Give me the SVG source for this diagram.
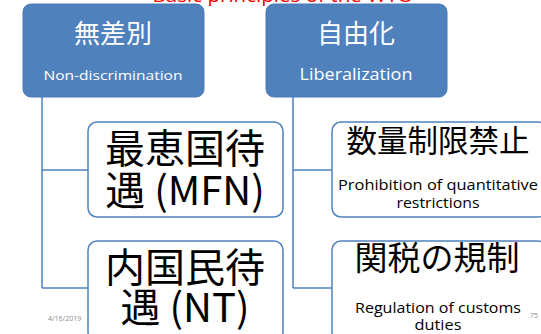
<svg xmlns="http://www.w3.org/2000/svg" width="541" height="334" viewBox="0 0 541 334">
<style>
.top{fill:#4F81BD;stroke:#4A7AB5;stroke-width:1}
.child{fill:#FFFFFF;stroke:#4F81BD;stroke-width:1.5}
.conn{fill:none;stroke:#4F81BD;stroke-width:1.5}
.jw{font-family:"Noto Sans CJK JP","Noto Sans",sans-serif;fill:#FFFFFF;text-anchor:middle}
.ew{font-family:"Open Sans","Liberation Sans",sans-serif;fill:#FFFFFF;text-anchor:middle}
.jb{font-family:"Noto Sans CJK JP",sans-serif;fill:#000000;text-anchor:middle}
.eb{font-family:"Open Sans","Liberation Sans",sans-serif;fill:#000000;text-anchor:middle}
.ft{font-family:"Open Sans","Liberation Sans",sans-serif;fill:#8C8C8C;font-size:7px}
</style>
<rect width="541" height="334" fill="#FFFFFF"/>
<text x="283" y="2" font-family="Open Sans, Liberation Sans, sans-serif" font-size="18" fill="#FF0000" text-anchor="middle" textLength="261" lengthAdjust="spacingAndGlyphs">Basic principles of the WTO</text>
<g id="connectors">
<path class="conn" d="M42,97 V288 M42,170 H88 M42,288 H88"/>
<path class="conn" d="M293,97 V288 M293,170 H332 M293,288 H332"/>
</g>
<g id="node-nondiscrimination">
<rect class="top" x="23" y="4" width="181" height="93" rx="8"/>
<text class="jw" x="113" y="43" font-size="26">無差別</text>
<text class="ew" x="113" y="80" font-size="13.5" textLength="139" lengthAdjust="spacingAndGlyphs">Non-discrimination</text>
</g>
<g id="node-liberalization">
<rect class="top" x="266" y="4" width="181" height="93" rx="8"/>
<text class="jw" x="356" y="43" font-size="26">自由化</text>
<text class="ew" x="356" y="80" font-size="16" textLength="113" lengthAdjust="spacingAndGlyphs">Liberalization</text>
</g>
<g id="node-mfn">
<rect class="child" x="88" y="122" width="195" height="95" rx="9"/>
<text class="jb" x="185" y="163" font-size="40">最恵国待</text>
<text class="jb" x="185" y="205" font-size="40">遇 (MFN)</text>
</g>
<g id="node-nt">
<rect class="child" x="88" y="241" width="195" height="100" rx="9"/>
<text class="jb" x="185" y="282" font-size="40">内国民待</text>
<text class="jb" x="185" y="322" font-size="40">遇 (NT)</text>
</g>
<g id="node-quantitative">
<rect class="child" x="332" y="122" width="215" height="95" rx="9"/>
<text class="jb" x="438" y="152" font-size="30.5">数量制限禁止</text>
<text class="eb" x="438" y="190" font-size="14" textLength="200" lengthAdjust="spacingAndGlyphs">Prohibition of quantitative</text>
<text class="eb" x="438" y="208" font-size="14" textLength="83" lengthAdjust="spacingAndGlyphs">restrictions</text>
</g>
<g id="node-customs">
<rect class="child" x="332" y="241" width="215" height="100" rx="9"/>
<text class="jb" x="437" y="270" font-size="33">関税の規制</text>
<text class="eb" x="438" y="313" font-size="15" textLength="166" lengthAdjust="spacingAndGlyphs">Regulation of customs</text>
<text class="eb" x="438" y="330" font-size="15" textLength="47" lengthAdjust="spacingAndGlyphs">duties</text>
</g>
<text class="ft" x="48" y="321">4/16/2019</text>
<text class="ft" x="530" y="318">75</text>
</svg>
